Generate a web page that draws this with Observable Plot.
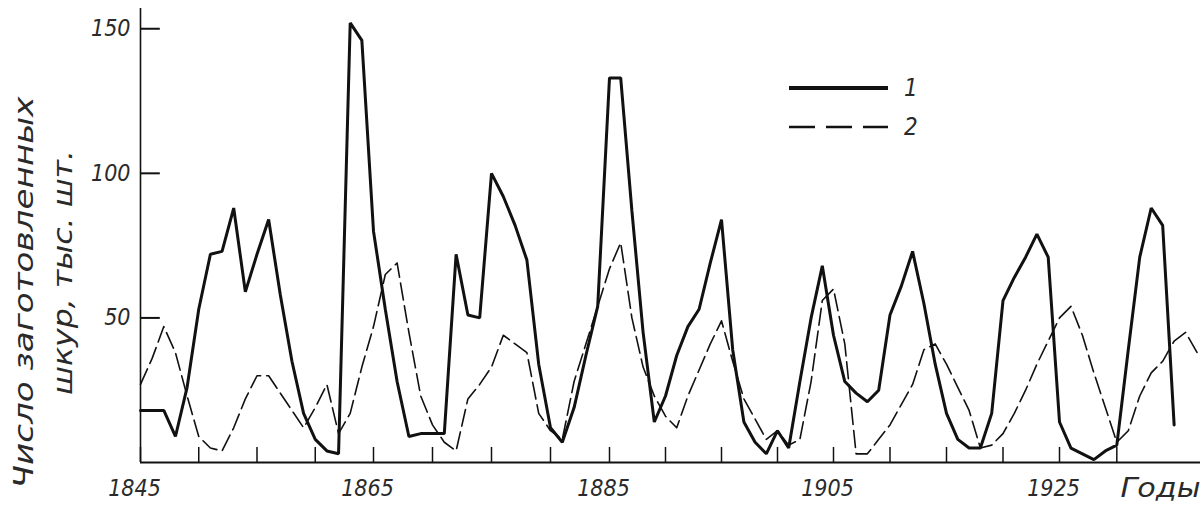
<!DOCTYPE html>
<html>
<head>
<meta charset="utf-8">
<script src="https://cdn.jsdelivr.net/npm/d3@7"></script>
<script src="https://cdn.jsdelivr.net/npm/@observablehq/plot@0.6"></script>
<style>
  body { margin: 0; background: #fff; }
  #wrap { position: relative; width: 1202px; height: 530px; overflow: hidden; }
  #legend { position: absolute; left: 780px; top: 70px; }
</style>
</head>
<body>
<div id="wrap"></div>
<script>
// ---- data (thousands of pelts) ----
const firstYear = 1845;
// series 1 (solid): 1845 … 1935
const series1 = [
  18, 18, 18, 9, 26, 53, 72, 73, 88, 59,      // 1845-1854
  72, 84, 58, 35, 17, 8, 4, 3, 152, 146,      // 1855-1864
  80, 53, 28, 9, 10, 10, 10, 72, 51, 50,      // 1865-1874
  100, 92, 82, 70, 34, 12, 7, 19, 37, 54,     // 1875-1884
  133, 133, 87, 45, 14, 23, 37, 47, 53, 69,   // 1885-1894
  84, 39, 14, 7, 3, 11, 5, 28, 50, 68,        // 1895-1904
  44, 28, 24, 21, 25, 51, 61, 73, 55, 34,     // 1905-1914
  17, 8, 5, 5, 17, 56, 64, 71, 79, 71,        // 1915-1924
  14, 5, 3, 1, 4, 6, 39, 71, 88, 82,          // 1925-1934
  13                                          // 1935
];
// series 2 (dashed): 1845 … 1937
const series2 = [
  27, 36, 47, 38, 23, 9, 5, 4, 12, 22,        // 1845-1854
  30, 30, 24, 18, 12, 19, 27, 10, 17, 33,     // 1855-1864
  47, 65, 69, 45, 23, 13, 7, 4, 22, 27,       // 1865-1874
  33, 44, 41, 38, 17, 11, 8, 28, 41, 54,      // 1875-1884
  67, 76, 50, 33, 23, 16, 12, 23, 32, 41,     // 1885-1894
  49, 35, 22, 15, 8, 11, 6, 8, 28, 56,        // 1895-1904
  60, 41, 3, 3, 8, 13, 20, 27, 39, 41,        // 1905-1914
  34, 26, 18, 5, 6, 10, 17, 25, 34, 42,       // 1915-1924
  50, 54, 44, 31, 19, 7, 11, 23, 31, 35,      // 1925-1934
  42, 45, 38                                  // 1935-1937
];
const tickYears = [1845, 1850, 1855, 1860, 1865, 1870, 1875, 1880, 1885, 1890, 1895, 1900, 1905, 1910, 1915, 1920, 1925, 1930];
const labelYears = [1845, 1865, 1885, 1905, 1925];
const yTicks = [50, 100, 150];
const yTitle = ["Число заготовленных", "шкур, тыс. шт."];
const xTitle = "Годы";
const legendLabels = ["1", "2"];

const rows1 = series1.map((v, i) => ({year: firstYear + i, value: v}));
const rows2 = series2.map((v, i) => ({year: firstYear + i, value: v}));

const ink = "#111";
const textInk = "#2a2a2a";
const font = '"DejaVu Sans Condensed", "DejaVu Sans", sans-serif';

const chart = Plot.plot({
  width: 1202,
  height: 530,
  marginLeft: 140,
  marginRight: 2,
  marginTop: 8,
  marginBottom: 68,
  style: {background: "#fff", fontFamily: font, overflow: "visible"},
  x: {axis: null, type: "linear",
      domain: [1845, 1865, 1885, 1905, 1925, 1937.3],
      range: [140, 373, 609, 833, 1059, 1200]},
  y: {axis: null, domain: [0, 157]},
  marks: [
    // axes
    Plot.ruleX([1845], {y1: 0, y2: 157, stroke: ink, strokeWidth: 1.6}),
    Plot.ruleY([0], {x1: 1845, x2: 1937.3, stroke: ink, strokeWidth: 2}),
    Plot.ruleX(tickYears, {y1: 0, y2: 5.2, stroke: ink, strokeWidth: 1.5}),
    Plot.ruleY(yTicks, {x1: 1845, x2: 1846.7, stroke: ink, strokeWidth: 2}),
    // tick labels
    Plot.text(labelYears, {x: d => d, frameAnchor: "bottom", dy: 26, dx: -6, text: d => String(d),
      fontSize: 23, fontStyle: "italic", fill: textInk, lineAnchor: "middle"}),
    Plot.text(yTicks, {y: d => d, frameAnchor: "left", dx: -10, text: d => String(d), textAnchor: "end",
      fontSize: 23, fontStyle: "italic", fill: textInk, lineAnchor: "middle"}),
    Plot.text([xTitle], {frameAnchor: "bottom-right", dy: 26, textAnchor: "end", text: d => d,
      fontSize: 27, fontStyle: "italic", fill: textInk, lineAnchor: "middle"}),
    Plot.text([yTitle[0]], {frameAnchor: "left", dx: -116, dy: 57, rotate: -90, text: d => d,
      textAnchor: "middle", fontSize: 27, fontStyle: "italic", fill: textInk, lineAnchor: "middle"}),
    Plot.text([yTitle[1]], {frameAnchor: "left", dx: -77, dy: 37, rotate: -90, text: d => d,
      textAnchor: "middle", fontSize: 26, fontStyle: "italic", fill: textInk, lineAnchor: "middle"}),
    // series
    Plot.line(rows2, {x: "year", y: "value", stroke: ink, strokeWidth: 1.6, strokeDasharray: "17,6"}),
    Plot.line(rows1, {x: "year", y: "value", stroke: ink, strokeWidth: 3, strokeLinejoin: "miter"})
  ]
});

// fit the axis title lines to the lengths seen in the reference
const titleLengths = {[yTitle[0]]: 392, [yTitle[1]]: 245, [xTitle]: 80};
chart.querySelectorAll("text").forEach(t => {
  const L = titleLengths[t.textContent];
  if (L) { t.setAttribute("textLength", L); t.setAttribute("lengthAdjust", "spacingAndGlyphs"); }
});

const wrap = document.getElementById("wrap");
wrap.appendChild(chart);

// legend
const ns = "http://www.w3.org/2000/svg";
const leg = document.createElementNS(ns, "svg");
leg.setAttribute("id", "legend");
leg.setAttribute("width", 150);
leg.setAttribute("height", 80);
const items = [
  {label: legendLabels[0], dash: null, w: 4},
  {label: legendLabels[1], dash: "26,11", w: 2.4}
];
items.forEach((it, i) => {
  const y = 18 + i * 39;
  const ln = document.createElementNS(ns, "line");
  ln.setAttribute("x1", 9); ln.setAttribute("x2", 108);
  ln.setAttribute("y1", y); ln.setAttribute("y2", y);
  ln.setAttribute("stroke", ink);
  ln.setAttribute("stroke-width", it.w);
  if (it.dash) ln.setAttribute("stroke-dasharray", it.dash);
  leg.appendChild(ln);
  const t = document.createElementNS(ns, "text");
  t.setAttribute("x", 124); t.setAttribute("y", y);
  t.setAttribute("dy", "0.35em");
  t.setAttribute("font-size", 24);
  t.setAttribute("font-style", "italic");
  t.setAttribute("font-family", font);
  t.setAttribute("fill", textInk);
  t.textContent = it.label;
  leg.appendChild(t);
});
wrap.appendChild(leg);
</script>
</body>
</html>
